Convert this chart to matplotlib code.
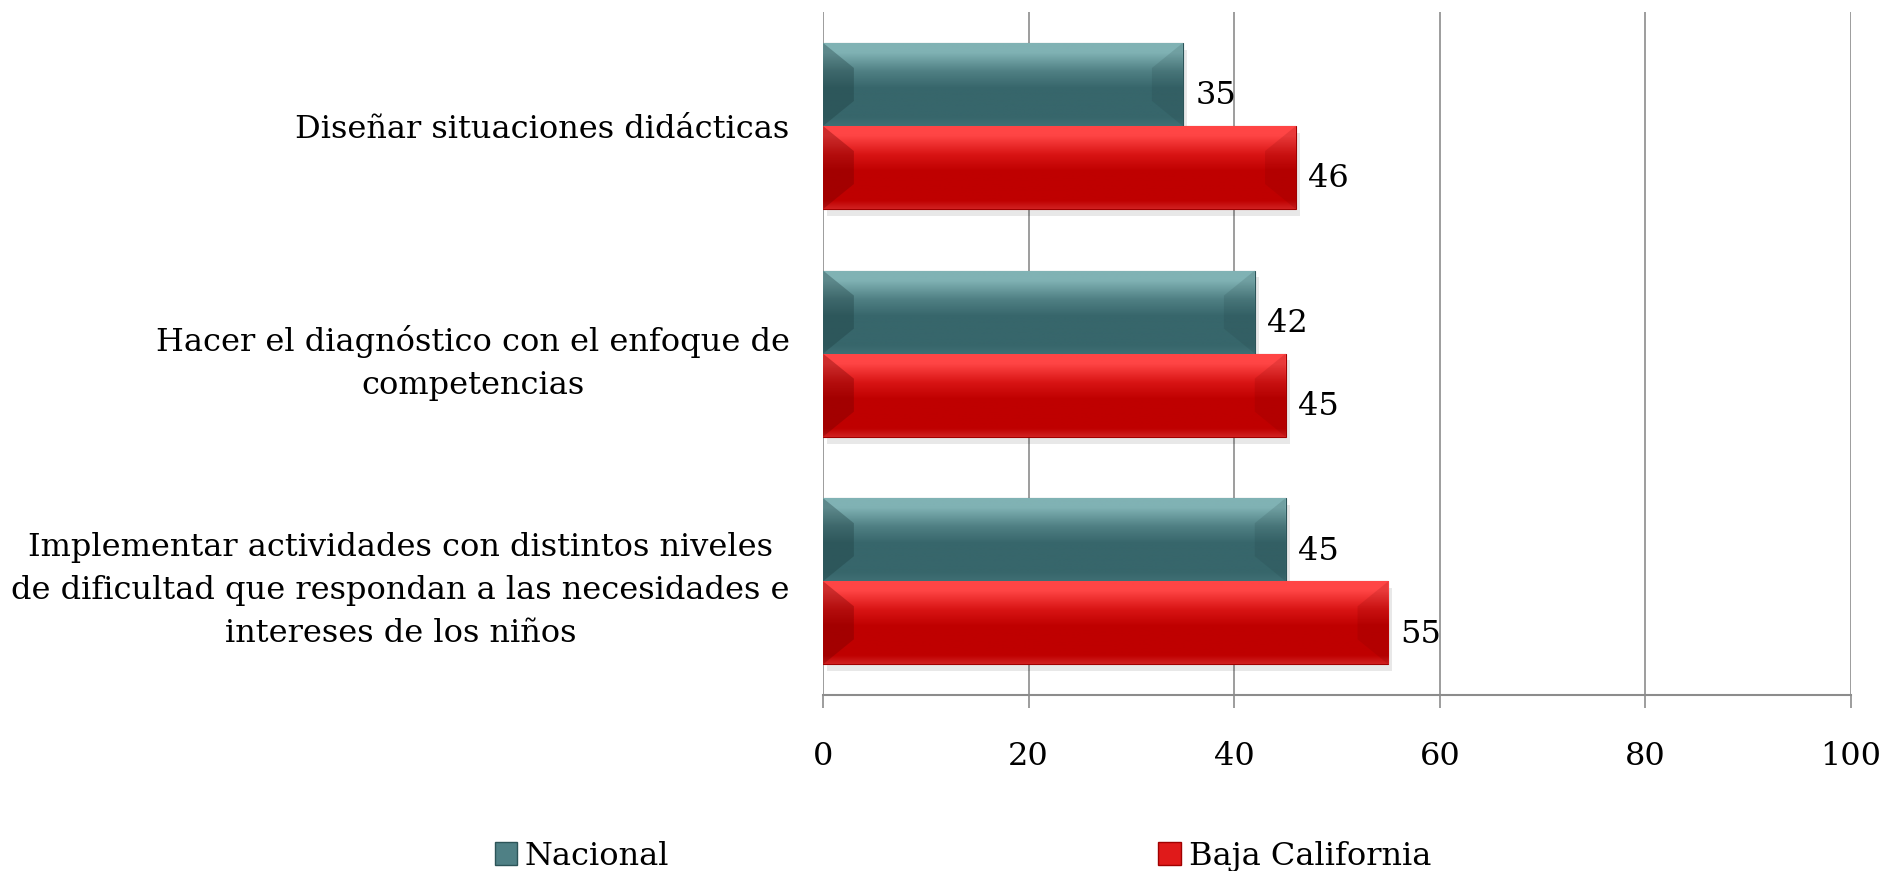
import matplotlib
matplotlib.use("Agg")
import matplotlib.pyplot as plt
import numpy as np
from matplotlib.patches import Polygon, Patch
from matplotlib.colors import to_rgba

categories = [
    "Diseñar situaciones didácticas",
    "Hacer el diagnóstico con el enfoque de\ncompetencias",
    "Implementar actividades con distintos niveles\nde dificultad que respondan a las necesidades e\nintereses de los niños",
]
nacional = [35, 42, 45]
baja_california = [46, 45, 55]
series_names = ["Nacional", "Baja California"]
xticks = [0, 20, 40, 60, 80, 100]

FONT = "DejaVu Serif"
FS = 23
plt.rcParams["font.family"] = [FONT]

fig = plt.figure(figsize=(18.86, 8.71), dpi=100)
ax = fig.add_axes([0.4364, 0.202, 0.545, 0.784])

n = len(categories)
y = np.arange(n)
h = 0.365

teal_main = "#37666b"
red_main = "#bf0000"

def gradient(top, mid, main, bottom):
    stops = [(0.0, top), (0.12, top), (0.35, mid), (0.55, main), (0.9, main), (1.0, bottom)]
    N = 100
    arr = np.zeros((N, 1, 4))
    ts = np.linspace(0, 1, N)
    pos = [s[0] for s in stops]
    cols = np.array([to_rgba(s[1]) for s in stops])
    for c in range(4):
        arr[:, 0, c] = np.interp(ts, pos, cols[:, c])
    return arr

grad_teal = gradient("#80b2b4", "#4f7f83", teal_main, "#3f6f74")
grad_red = gradient("#ff4545", "#d81414", red_main, "#d02020")

bars_n = ax.barh(y - h / 2, nacional, height=h, color=teal_main, edgecolor="#2c5458", linewidth=0.8, zorder=3)
bars_b = ax.barh(y + h / 2, baja_california, height=h, color=red_main, edgecolor="#a00000", linewidth=0.8, zorder=3)

ax.set_xlim(0, 100)
ax.set_ylim(n - 0.5, -0.5)

def decorate(bars, grad, dark, light):
    for p in bars:
        x0, y0, w, hh = p.get_x(), p.get_y(), p.get_width(), p.get_height()
        sh = Polygon([(x0 + 0.4, y0 + 0.03), (x0 + w + 0.4, y0 + 0.03), (x0 + w + 0.4, y0 + hh + 0.03), (x0 + 0.4, y0 + hh + 0.03)],
                     closed=True, facecolor="#000000", alpha=0.09, edgecolor="none", zorder=2)
        ax.add_patch(sh)
        im = ax.imshow(grad, extent=[x0, x0 + w, y0 + hh, y0], origin="upper", aspect="auto", zorder=3.5)
        im.set_clip_path(p)
        dx, dy = 3.0, 0.11
        left = Polygon([(x0, y0), (x0 + dx, y0 + dy), (x0 + dx, y0 + hh - dy), (x0, y0 + hh)],
                       closed=True, facecolor=dark, alpha=0.35, edgecolor="none", zorder=3.6)
        right = Polygon([(x0 + w, y0), (x0 + w - dx, y0 + dy), (x0 + w - dx, y0 + hh - dy), (x0 + w, y0 + hh)],
                        closed=True, facecolor=dark, alpha=0.15, edgecolor="none", zorder=3.6)
        ax.add_patch(left)
        ax.add_patch(right)
        border = Polygon(p.get_verts(), closed=True, facecolor="none", edgecolor=p.get_edgecolor(), linewidth=0.8, zorder=3.7)
        ax.add_patch(border)
        ax.text(x0 + w + 1.2, y0 + hh / 2 + 0.05, f"{w:g}", va="center", ha="left", fontsize=FS, color="black", zorder=5)

decorate(bars_n, grad_teal, "#1d3c3f", "#9fd0d2")
decorate(bars_b, grad_red, "#700000", "#ff8080")

ax.set_xlim(0, 100)
ax.set_ylim(n - 0.5, -0.5)

ax.set_xticks(xticks)
ax.set_xticklabels([str(t) for t in xticks], fontsize=FS)
ax.set_yticks(y)
ax.set_yticklabels(categories, fontsize=FS, multialignment="center", linespacing=1.5)
ax.tick_params(axis="y", length=0, pad=24)
ax.tick_params(axis="x", length=9, width=1.2, color="#8c8c8c", direction="out", pad=24)
ax.xaxis.grid(True, color="#8c8c8c", linewidth=1.2, zorder=0)
ax.set_axisbelow(True)
for s in ["top", "right", "left"]:
    ax.spines[s].set_visible(False)
ax.spines["bottom"].set_color("#8c8c8c")
ax.spines["bottom"].set_linewidth(1.5)

handles = [Patch(facecolor="#4f8085", edgecolor="#2c5458"), Patch(facecolor="#e01a1a", edgecolor="#a00000")]
fig.legend(handles, series_names, loc="center left", bbox_to_anchor=(0.247, 0.017), ncol=2, frameon=False,
           fontsize=FS, handlelength=0.7, handleheight=0.7, handletextpad=0.25, columnspacing=15.3)

fig.savefig("out.png", dpi=100)
